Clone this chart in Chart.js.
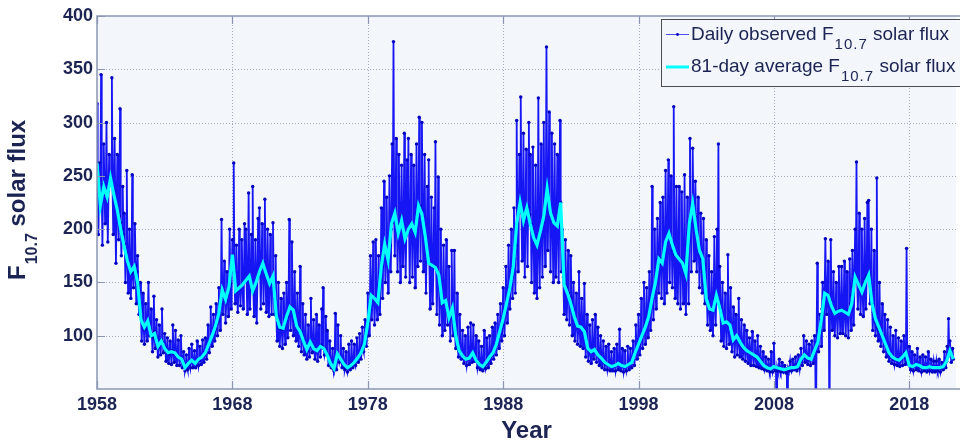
<!DOCTYPE html>
<html>
<head>
<meta charset="utf-8">
<script src="https://cdn.jsdelivr.net/npm/chart.js@4.4.1/dist/chart.umd.min.js"></script>
<style>
  html, body { margin: 0; padding: 0; background: #ffffff; overflow: hidden; }
  #wrap { position: relative; width: 960px; height: 442px; }
</style>
</head>
<body>
<div id="wrap"><canvas id="flux" width="960" height="442"></canvas></div>
<script>
// Observed F10.7 flux, sampled every 0.05 year from 1958.0
const dailyStart = 1958.0;
const dailyStep = 0.05;
const dailyFlux = [
  318,250,195,232,262,226,345,236,185,242,280,238,205,232,300,228,188,236,270,242, // 1958
  250,245,342,240,195,236,285,228,168,222,270,216,190,212,313,206,175,200,240,195, // 1959
  215,186,150,178,255,172,140,166,200,162,135,158,251,160,145,164,205,166,130,160, // 1960
  175,148,120,130,150,118,95,112,140,108,92,106,130,110,95,114,150,112,100,106,    // 1961
  125,102,85,98,137,104,88,98,115,92,80,90,110,94,82,96,125,94,84,90,              // 1962
  102,88,76,86,98,84,74,83,95,85,73,86,110,84,75,84,105,82,72,82,                  // 1963
  96,80,72,79,100,78,70,76,85,72,67,70,82,71,68,73,88,75,70,76,                    // 1964
  92,76,70,75,86,74,70,75,95,78,72,77,90,79,73,80,96,81,75,82,                     // 1965
  98,85,78,88,110,92,84,95,127,98,90,101,120,104,95,107,130,111,100,115,           // 1966
  145,122,105,130,209,140,120,142,170,136,112,134,160,138,118,144,200,148,125,160, // 1967
  190,170,262,160,130,145,185,142,122,144,200,146,128,147,190,148,125,150,205,152, // 1968
  200,152,120,154,234,156,125,150,195,144,240,142,118,146,190,150,112,154,210,156, // 1969
  220,160,125,164,205,168,130,165,228,158,122,156,200,152,118,150,195,150,120,152, // 1970
  206,150,120,135,175,118,95,112,150,108,90,107,135,106,88,108,140,110,92,114,     // 1971
  150,118,98,124,209,127,105,126,188,124,100,120,160,114,95,110,140,108,90,106,    // 1972
  165,104,85,100,130,96,82,92,120,88,78,86,110,90,80,94,135,92,84,90,              // 1973
  115,88,78,87,120,86,76,88,110,90,80,91,125,89,145,88,82,86,118,84,               // 1974
  105,82,72,78,95,75,70,72,88,69,67,70,121,76,68,82,110,80,75,78,                  // 1975
  100,77,70,75,88,73,68,71,85,70,66,70,92,71,68,73,95,74,70,75,                    // 1976
  92,75,72,77,98,79,75,81,102,83,78,85,108,88,85,91,115,95,90,100,                 // 1977
  140,112,100,124,175,136,115,138,188,136,110,134,190,132,115,131,175,140,120,152, // 1978
  220,165,135,176,245,186,150,180,230,172,140,172,250,185,160,200,280,206,376,212, // 1979
  175,214,285,205,160,197,270,200,150,207,260,205,165,196,290,191,155,194,265,198, // 1980
  285,200,150,203,270,205,155,201,260,197,145,200,280,210,165,220,305,222,170,218, // 1981
  300,212,160,204,270,193,140,182,240,170,265,168,125,166,230,166,130,165,220,164, // 1982
  282,164,120,160,249,157,110,145,200,132,100,131,185,132,105,133,190,128,110,122, // 1983
  165,117,95,122,180,126,100,115,180,102,88,96,140,90,80,86,120,84,78,82,          // 1984
  105,81,74,80,100,78,72,78,108,79,73,80,112,82,75,84,110,82,76,80,                // 1985
  100,77,70,75,95,73,68,72,90,71,67,71,105,72,69,74,98,76,70,78,                   // 1986
  100,80,74,82,108,84,78,87,112,90,82,93,120,97,88,102,130,106,95,110,             // 1987
  145,116,100,122,165,130,112,136,185,143,125,148,200,155,135,163,220,172,140,185, // 1988
  302,205,160,215,270,225,324,218,170,210,290,208,155,212,275,218,165,220,300,214, // 1989
  270,205,150,200,277,192,140,188,260,185,135,186,323,192,145,198,280,202,155,206, // 1990
  300,212,165,225,371,238,180,228,310,216,160,212,290,208,150,206,280,205,155,204, // 1991
  270,203,150,214,302,225,160,200,175,155,120,148,190,145,115,142,180,140,110,136, // 1992
  175,130,100,124,150,118,95,114,140,110,92,108,160,108,90,108,135,107,88,106,     // 1993
  149,104,80,96,120,88,76,86,110,85,74,85,115,86,78,87,120,86,75,84,               // 1994
  108,82,72,80,100,79,70,77,95,75,68,74,90,74,68,73,92,73,67,72,                   // 1995
  85,71,67,71,88,72,67,73,92,74,68,74,106,73,67,72,88,72,66,71,                    // 1996
  86,71,67,72,90,73,68,74,88,75,70,77,95,80,72,84,110,87,78,90,                    // 1997
  120,92,82,96,135,100,88,104,150,108,92,112,145,116,98,120,160,126,105,132,       // 1998
  240,135,115,142,200,150,125,160,210,172,140,170,225,168,135,172,230,178,130,184, // 1999
  255,188,140,192,265,196,150,190,250,185,145,180,315,176,135,176,240,175,130,174, // 2000
  240,172,125,170,235,168,130,162,251,158,120,165,230,185,130,205,285,212,160,218, // 2001
  276,224,170,212,245,200,160,190,230,180,145,176,215,172,140,160,210,148,130,140, // 2002
  190,135,110,130,175,125,105,124,160,124,100,128,193,135,110,138,200,134,280,130, // 2003
  165,126,95,118,150,112,90,112,140,113,88,112,176,110,92,108,145,104,85,100,      // 2004
  127,96,80,98,120,100,82,97,135,94,80,92,115,89,78,88,110,87,76,87,               // 2005
  105,86,74,85,98,84,72,83,104,82,72,81,95,80,71,79,100,78,70,77,                  // 2006
  90,76,69,74,85,72,68,71,80,70,67,70,78,69,66,69,85,70,66,70,                     // 2007
  93,71,67,70,0,70,67,70,78,69,66,69,75,68,66,68,72,68,65,69,                      // 2008
  0,69,67,70,76,70,67,70,78,70,68,71,80,71,67,72,82,74,69,76,                      // 2009
  88,78,72,80,100,82,75,80,95,79,73,78,92,78,72,80,95,82,74,84,                    // 2010
  100,86,0,90,168,94,85,104,120,115,90,125,150,135,105,140,191,140,120,139,        // 2011
  170,138,0,133,190,128,105,124,160,121,100,122,150,123,98,124,165,124,102,124,    // 2012
  165,124,102,123,170,122,100,121,160,120,98,124,172,130,105,138,180,146,110,152,  // 2013
  200,155,263,151,125,148,215,144,120,141,200,145,118,150,210,153,125,156,225,157, // 2014
  227,157,130,143,200,130,105,122,180,116,100,112,248,108,95,105,150,102,90,100,   // 2015
  130,100,85,96,120,92,80,88,115,84,76,82,108,80,74,79,100,78,73,78,               // 2016
  105,78,72,77,98,77,71,78,95,80,72,82,100,84,73,80,182,76,75,73,                  // 2017
  90,72,68,71,85,71,67,72,82,73,68,73,88,72,67,71,80,71,66,70,                     // 2018
  82,70,67,70,80,70,66,70,85,71,67,71,78,70,66,70,76,70,66,70,                     // 2019
  76,70,67,70,78,70,66,70,75,71,68,72,85,74,70,76,90,80,116,84,                    // 2020
  95,86,75,82,88,78                                                                // 2021
];

// 81-day running mean, sampled every quarter year from 1958.0
const avgStart = 1958.0;
const avgStep = 0.25;
const avgFlux = [
  262,222,240,230, 248,232,218,200, 184,170,160,165, 150,115,108,114,
  100,102,90,95,   88,84,85,84,     80,78,70,74,     77,74,78,80,
  84,92,100,109,   121,143,134,146, 176,142,145,148, 152,156,142,150,
  160,168,158,149, 156,118,108,107, 118,127,124,109, 104,95,87,94,
  88,86,90,88,     82,74,69,83,     78,73,70,72,     75,79,84,92,
  112,138,135,131, 165,186,171,205, 215,196,208,191, 200,205,197,222,
  214,193,168,166, 164,157,131,133, 117,126,100,86,  81,78,79,84,
  77,73,71,75,     80,84,92,104,    116,130,145,165, 205,225,208,220,
  205,192,185,198, 212,238,215,206, 203,225,148,140, 130,118,109,108,
  104,88,85,87,    82,79,75,73,     71,72,74,72,     71,73,75,84,
  92,100,108,118,  135,150,172,168, 188,196,185,176, 172,168,158,205,
  224,200,180,172, 135,125,124,138, 126,112,113,110, 96,100,94,89,
  86,84,82,80,     76,72,70,69,     71,70,69,68,     69,70,70,71,
  78,82,79,78,     86,94,115,140,   138,128,121,123, 124,122,120,130,
  155,148,141,150, 157,130,116,108, 100,92,84,80,    78,77,80,84,
  72,71,73,72,     70,70,71,70,     70,70,71,76,     86,78
];

const xTicks = [1958, 1968, 1978, 1988, 1998, 2008, 2018];
const yTicks = [100, 150, 200, 250, 300, 350, 400];
const xRange = [1958, 2021.45];
const yRange = [50, 400];

const FONT = "'Liberation Sans', Arial, Helvetica, sans-serif";
const INK = '#1b2452';
const AXIS = '#8c96b3';
const GRID = '#a4acbe';
const PLOT_BG = '#f3f6fb';
const DAILY_LINE = 'rgb(22,22,245)';
const DAILY_DOT = '#0000c0';
const AVG_LINE = '#00ffff';

const dailyPts = dailyFlux.map((v, i) => ({ x: dailyStart + i * dailyStep, y: v }));
const avgPts = avgFlux.map((v, i) => ({ x: avgStart + i * avgStep, y: v }));

// Text with a subscript part: main + sub + rest
function drawSubText(ctx, x, y, main, sub, rest, mainFont, subFont, subDrop, subSpacing) {
  ctx.font = mainFont;
  ctx.fillText(main, x, y);
  x += ctx.measureText(main).width;
  ctx.font = subFont;
  ctx.letterSpacing = subSpacing + 'px';
  ctx.fillText(sub, x + 1, y + subDrop);
  x += ctx.measureText(sub).width + 1;
  ctx.letterSpacing = '0px';
  ctx.font = mainFont;
  ctx.fillText(rest, x, y);
}

const framePlugin = {
  id: 'frame',
  beforeDatasetsDraw(chart) {
    const { ctx, chartArea: a, scales: { x, y } } = chart;
    ctx.save();
    ctx.fillStyle = PLOT_BG;
    ctx.fillRect(a.left, a.top, a.right - a.left, a.bottom - a.top);
    ctx.strokeStyle = GRID;
    ctx.lineWidth = 1;
    ctx.setLineDash([1, 2]);
    ctx.beginPath();
    xTicks.forEach(v => {
      if (v === xRange[0]) return;
      const px = Math.round(x.getPixelForValue(v)) + 0.5;
      ctx.moveTo(px, a.top); ctx.lineTo(px, a.bottom);
    });
    yTicks.forEach(v => {
      if (v === yRange[1]) return;
      const py = Math.round(y.getPixelForValue(v)) + 0.5;
      ctx.moveTo(a.left, py); ctx.lineTo(a.right, py);
    });
    ctx.stroke();
    ctx.restore();
  },
  afterDraw(chart) {
    const { ctx, chartArea: a, scales: { x, y } } = chart;
    ctx.save();
    // axes box (left, bottom, top) and inward tick marks
    ctx.strokeStyle = AXIS;
    ctx.lineWidth = 1.5;
    ctx.beginPath();
    ctx.moveTo(a.right + 5, a.top); ctx.lineTo(a.left, a.top);
    ctx.lineTo(a.left, a.bottom); ctx.lineTo(a.right + 5, a.bottom);
    ctx.stroke();
    ctx.lineWidth = 1.2;
    ctx.beginPath();
    xTicks.forEach(v => {
      const px = Math.round(x.getPixelForValue(v)) + 0.5;
      ctx.moveTo(px, a.bottom); ctx.lineTo(px, a.bottom - 8);
      ctx.moveTo(px, a.top); ctx.lineTo(px, a.top + 8);
    });
    yTicks.forEach(v => {
      const py = Math.round(y.getPixelForValue(v)) + 0.5;
      ctx.moveTo(a.left, py); ctx.lineTo(a.left + 8, py);
    });
    ctx.stroke();

    // legend
    const lx = 661, ly = 19, lh = 67;
    ctx.fillStyle = PLOT_BG;
    ctx.fillRect(lx, ly, 400, lh);
    ctx.strokeStyle = '#4b4b55';
    ctx.lineWidth = 1;
    ctx.strokeRect(lx + 0.5, ly + 0.5, 400, lh);
    ctx.strokeStyle = 'rgba(60,60,255,0.9)';
    ctx.lineWidth = 1;
    ctx.beginPath(); ctx.moveTo(666, 34.5); ctx.lineTo(689, 34.5); ctx.stroke();
    ctx.fillStyle = DAILY_DOT;
    ctx.beginPath(); ctx.arc(677.5, 34.5, 1.4, 0, Math.PI * 2); ctx.fill();
    ctx.strokeStyle = AVG_LINE;
    ctx.lineWidth = 3;
    ctx.beginPath(); ctx.moveTo(666, 67); ctx.lineTo(689, 67); ctx.stroke();

    ctx.fillStyle = INK;
    ctx.textBaseline = 'alphabetic';
    ctx.textAlign = 'left';
    const legFont = '19px ' + FONT;
    const legSub = '15px ' + FONT;
    drawSubText(ctx, 691, 40, 'Daily observed F', '10.7', ' solar flux', legFont, legSub, 9, 1);
    drawSubText(ctx, 691, 72, '81-day average F', '10.7', ' solar flux', legFont, legSub, 9, 1);

    // axis titles
    ctx.font = 'bold 24px ' + FONT;
    ctx.textAlign = 'center';
    ctx.fillText('Year', (a.left + a.right) / 2, 438);

    ctx.save();
    ctx.translate(25, 280);
    ctx.rotate(-Math.PI / 2);
    ctx.textAlign = 'left';
    drawSubText(ctx, 0, 0, 'F', '10.7', ' solar flux', 'bold 24px ' + FONT, 'bold 16px ' + FONT, 11.5, 0);
    ctx.restore();
    ctx.restore();
  }
};

new Chart(document.getElementById('flux'), {
  type: 'line',
  data: {
    datasets: [
      {
        label: 'Daily observed F10.7 solar flux',
        data: dailyPts,
        borderColor: DAILY_LINE,
        borderWidth: 1.8,
        pointRadius: 1.7,
        pointBackgroundColor: DAILY_DOT,
        pointBorderWidth: 0,
        tension: 0,
        order: 2
      },
      {
        label: '81-day average F10.7 solar flux',
        data: avgPts,
        borderColor: AVG_LINE,
        borderWidth: 3.2,
        pointRadius: 0,
        tension: 0,
        order: 1
      }
    ]
  },
  options: {
    responsive: false,
    animation: false,
    devicePixelRatio: 1,
    layout: { padding: { top: 16, right: 0, bottom: 0, left: 0 } },
    plugins: { legend: { display: false }, tooltip: { enabled: false } },
    scales: {
      x: {
        type: 'linear',
        min: xRange[0],
        max: xRange[1],
        afterBuildTicks: s => { s.ticks = xTicks.map(v => ({ value: v })); },
        afterFit: s => { s.height = 53; },
        grid: { display: false, drawTicks: false },
        border: { display: false },
        ticks: {
          autoSkip: false, maxRotation: 0, padding: 5,
          color: INK,
          font: { family: FONT, size: 18, weight: 'bold' },
          callback: v => String(v)
        }
      },
      y: {
        type: 'linear',
        min: yRange[0],
        max: yRange[1],
        afterBuildTicks: s => { s.ticks = yTicks.map(v => ({ value: v })); },
        afterFit: s => { s.width = 97; },
        grid: { display: false, drawTicks: false },
        border: { display: false },
        ticks: {
          padding: 4,
          color: INK,
          font: { family: FONT, size: 18, weight: 'bold' },
          callback: v => String(v)
        }
      }
    }
  },
  plugins: [framePlugin]
});
</script>
</body>
</html>
